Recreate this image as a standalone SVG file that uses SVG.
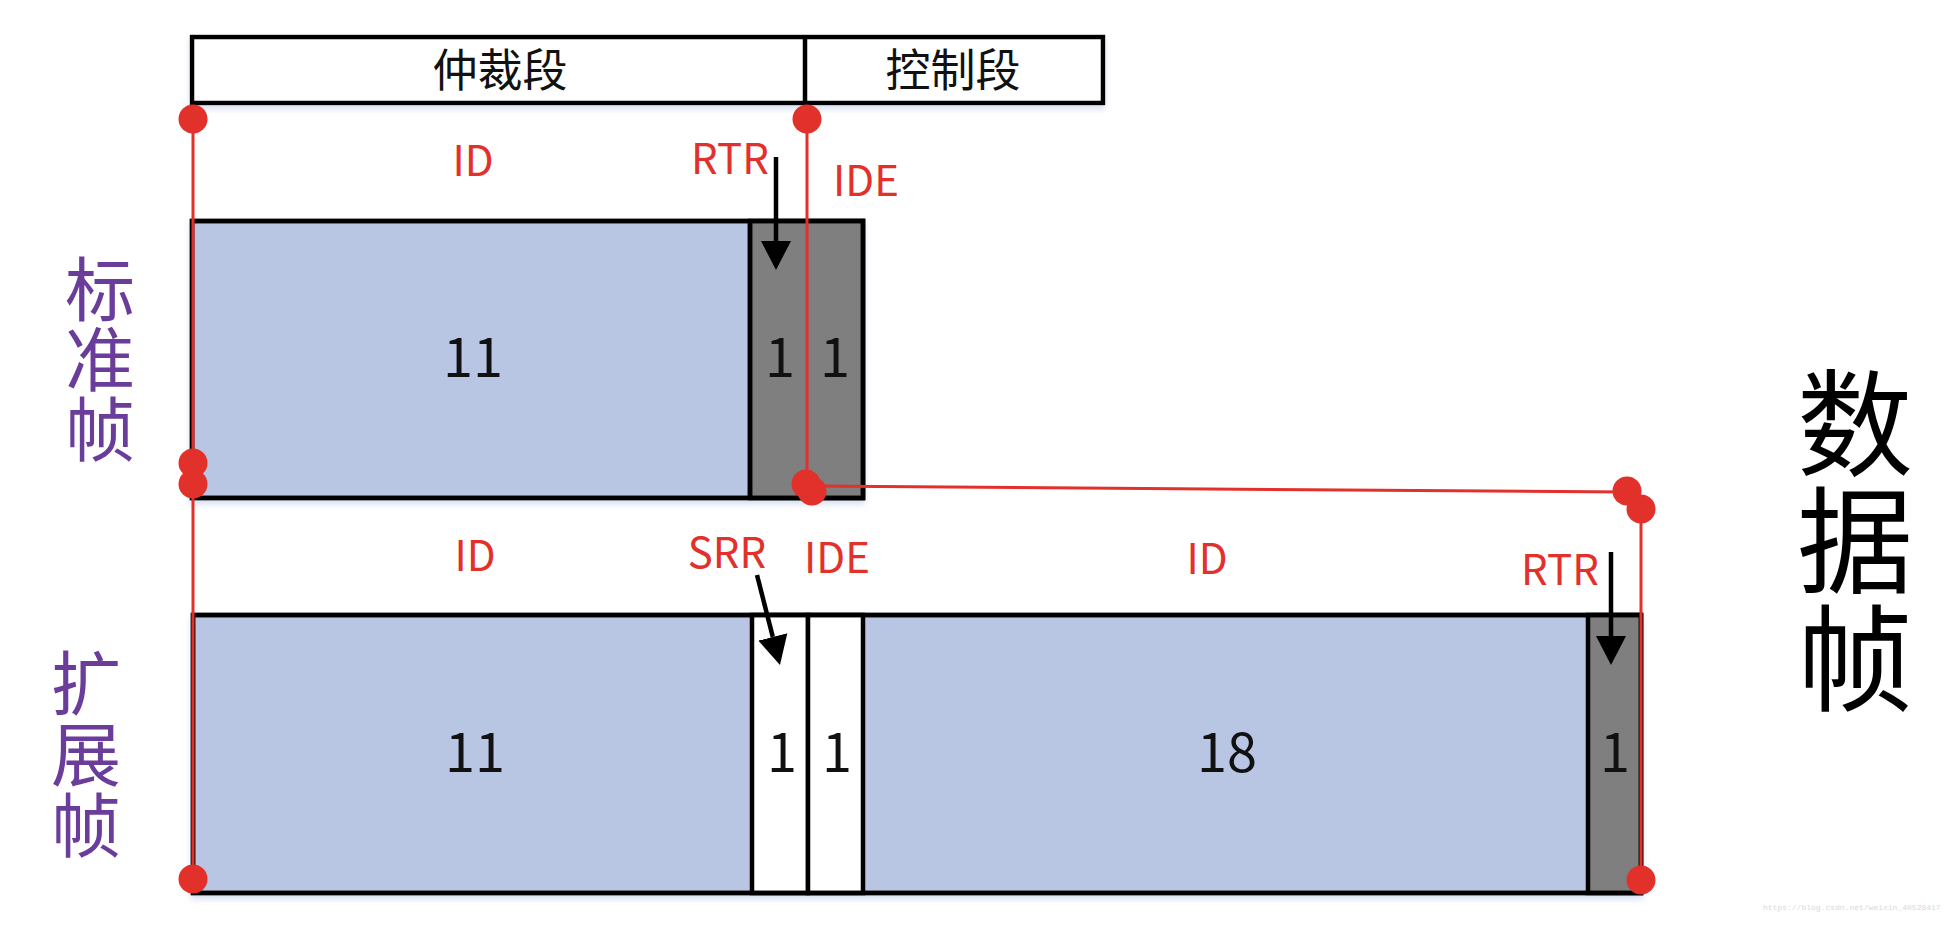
<svg xmlns="http://www.w3.org/2000/svg" width="1954" height="944" viewBox="0 0 1954 944">
<defs>
<style>
.box{stroke:#000;stroke-width:4.5}
.blue{fill:#b8c6e3}
.gray{fill:#7f7f7f}
.white{fill:#fff}
.div{stroke:#000;stroke-width:4.5}
.red{stroke:#e2302a;stroke-width:3;fill:none}
.dot{fill:#e2302a}
.lbl{font-family:"Noto Sans CJK SC","Noto Sans",sans-serif;font-size:42px;fill:#e2302a;text-anchor:middle}
.num{font-family:"Noto Sans CJK SC","Noto Sans",sans-serif;font-size:54px;fill:#111;text-anchor:middle}
.hdr{font-family:"Noto Sans CJK SC",sans-serif;font-size:45px;fill:#111;text-anchor:middle}
.side{font-family:"Noto Sans CJK SC",sans-serif;font-size:70px;fill:#6a3d9a;text-anchor:middle}
.big{font-family:"Noto Sans CJK SC",sans-serif;font-size:116px;fill:#000;text-anchor:middle}
.arr{stroke:#000;stroke-width:4.5;fill:none}
.wm{font-family:"Liberation Mono",monospace;font-size:8px;fill:#d8d8d8}
</style>
<marker id="ah" markerUnits="userSpaceOnUse" markerWidth="30" markerHeight="32" refX="0" refY="15" orient="auto" viewBox="0 0 30 30">
<path d="M0,0 L29,15 L0,30 z" fill="#000"/>
</marker>
<filter id="sh" x="-5%" y="-5%" width="110%" height="120%">
<feDropShadow dx="0" dy="4" stdDeviation="3" flood-color="#bccbe6" flood-opacity="0.6"/>
</filter>
</defs>

<g id="header">
<rect x="192" y="37" width="911" height="66" class="white box" stroke-width="4" filter="url(#sh)"/>
<line x1="805" y1="37" x2="805" y2="103" class="div"/>
<text x="500" y="87" class="hdr">仲裁段</text>
<text x="953" y="87" class="hdr">控制段</text>
</g>

<g id="standard-frame">
<rect x="192" y="221" width="671" height="277" class="blue box" filter="url(#sh)"/>
<rect x="750" y="221" width="113" height="277" class="gray box"/>
<rect x="192" y="221" width="671" height="277" fill="none" class="box"/>
<line x1="750" y1="221" x2="750" y2="498" class="div"/>
<text x="473" y="377" class="num">11</text>
<text x="780" y="377" class="num">1</text>
<text x="835" y="377" class="num">1</text>
</g>

<g id="extended-frame">
<rect x="193" y="615" width="1448" height="278" class="blue box" filter="url(#sh)"/>
<rect x="752" y="615" width="56" height="278" class="white box"/>
<rect x="808" y="615" width="55" height="278" class="white box"/>
<rect x="1588" y="615" width="53" height="278" class="gray box"/>
<rect x="193" y="615" width="1448" height="278" fill="none" class="box"/>
<text x="475" y="772" class="num">11</text>
<text x="782" y="772" class="num">1</text>
<text x="837" y="772" class="num">1</text>
<text x="1227" y="772" class="num">18</text>
<text x="1615" y="772" class="num">1</text>
</g>

<g id="labels">
<text x="473" y="176" class="lbl">ID</text>
<text x="730" y="174" class="lbl">RTR</text>
<text x="866" y="196" class="lbl">IDE</text>
<text x="475" y="571" class="lbl">ID</text>
<text x="727" y="568" class="lbl">SRR</text>
<text x="837" y="573" class="lbl">IDE</text>
<text x="1207" y="574" class="lbl">ID</text>
<text x="1560" y="585" class="lbl">RTR</text>
</g>

<g id="side-labels">
<text x="100" class="side"><tspan x="100" y="316">标</tspan><tspan x="100" y="386">准</tspan><tspan x="100" y="456">帧</tspan></text>
<text x="86" class="side"><tspan x="86" y="710">扩</tspan><tspan x="86" y="781">展</tspan><tspan x="86" y="852">帧</tspan></text>
<text x="1855" class="big"><tspan x="1855" y="467">数</tspan><tspan x="1855" y="584">据</tspan><tspan x="1855" y="702">帧</tspan></text>
</g>

<g id="connectors">
<line x1="193" y1="119" x2="193" y2="879" class="red"/>
<line x1="807" y1="119" x2="807" y2="484" class="red"/>
<line x1="810" y1="486" x2="1627" y2="492" class="red"/>
<line x1="1641" y1="509" x2="1641" y2="880" class="red"/>
<circle cx="193" cy="119" r="14.5" class="dot"/>
<circle cx="807" cy="119" r="14.5" class="dot"/>
<circle cx="193" cy="463" r="14.5" class="dot"/>
<circle cx="193" cy="484" r="14.5" class="dot"/>
<circle cx="193" cy="879" r="14.5" class="dot"/>
<circle cx="806" cy="484" r="14.5" class="dot"/>
<circle cx="812" cy="491" r="14.5" class="dot"/>
<circle cx="1627" cy="491" r="14.5" class="dot"/>
<circle cx="1641" cy="509" r="14.5" class="dot"/>
<circle cx="1641" cy="880" r="14.5" class="dot"/>
<line x1="776" y1="157" x2="776" y2="241" class="arr" marker-end="url(#ah)"/>
<line x1="757" y1="575" x2="772.8" y2="636.9" class="arr" marker-end="url(#ah)"/>
<line x1="1611" y1="552" x2="1611" y2="636" class="arr" marker-end="url(#ah)"/>
</g>

<text x="1763" y="910" class="wm">https://blog.csdn.net/weixin_40528417</text>
</svg>
